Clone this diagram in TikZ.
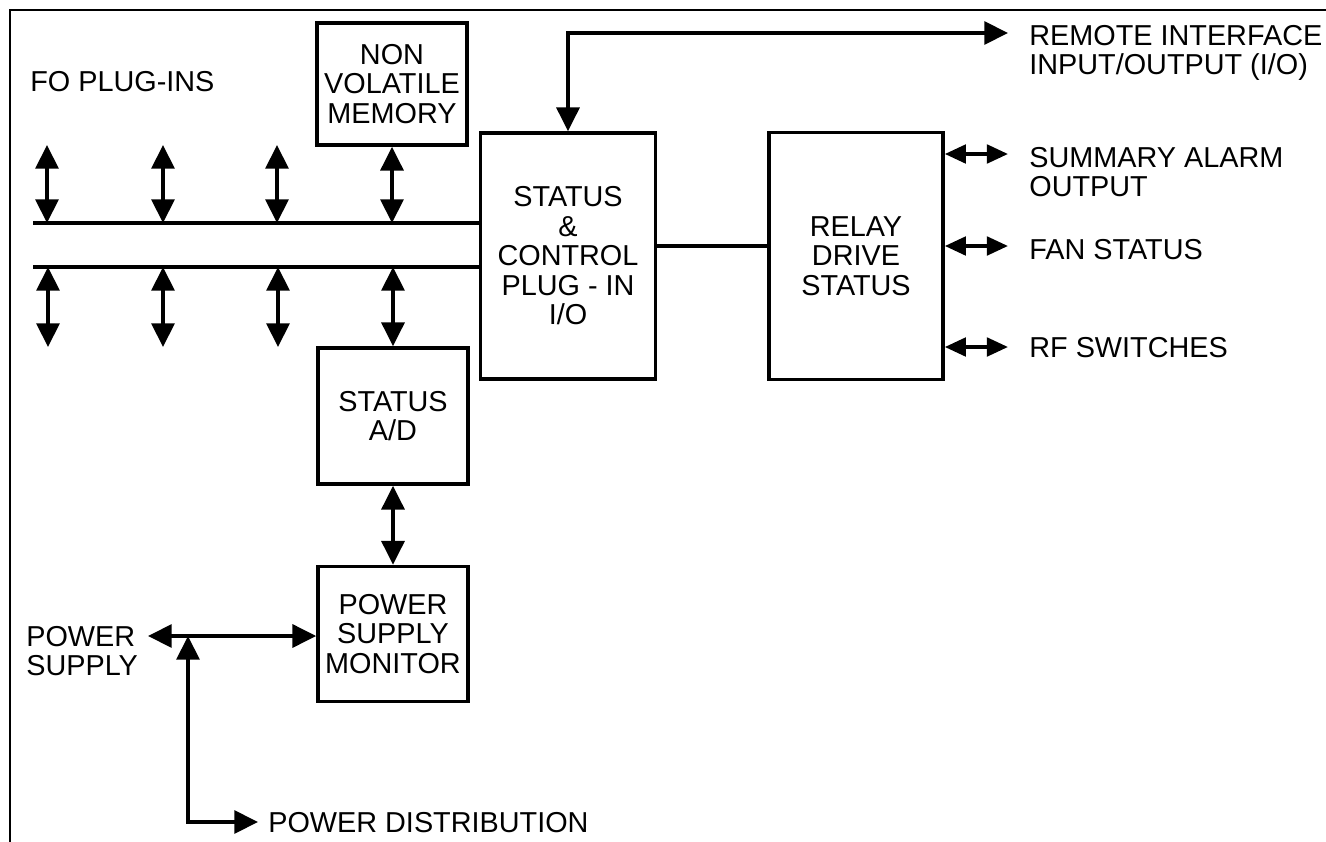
\documentclass[tikz,border=0pt]{standalone}
\usepackage{fontspec}
\setmainfont{Liberation Sans}
\usetikzlibrary{arrows.meta,positioning}
\tikzset{
  blk/.style={draw,line width=2.1pt,align=center,inner sep=0pt},
  lbl/.style={anchor=west,align=left,inner sep=0pt},
  wire/.style={line width=2.1pt},
  dbl/.style={wire,{Triangle[length=13.5pt,width=13pt]}-{Triangle[length=13.5pt,width=13pt]}},
  dbls/.style={wire,{Triangle[length=12pt,width=10.5pt]}-{Triangle[length=12pt,width=10.5pt]}},
}
\begin{document}
\begin{tikzpicture}[x=0.02cm,y=-0.02cm,font=\fontsize{16.4}{16.8}\selectfont]
\useasboundingbox (0,0) rectangle (1326,842);
\draw[line width=1.4pt] (1326,10) -- (10,10) -- (10,842);
\node[blk,minimum width=3cm,minimum height=2.44cm] (nvm) at (392,84) {NON\\VOLATILE\\MEMORY};
\node[blk,minimum width=3.5cm,minimum height=4.92cm] (ctl) at (568,256) {STATUS\\\&\\CONTROL\\PLUG - IN\\I/O};
\node[blk,minimum width=3.48cm,minimum height=4.94cm] (relay) at (856,256) {RELAY\\DRIVE\\STATUS};
\node[blk,minimum width=3cm,minimum height=2.72cm] (ad) at (393,416) {STATUS\\A/D};
\node[blk,minimum width=3cm,minimum height=2.7cm] (psm) at (393,634) {POWER\\SUPPLY\\MONITOR};
\node[lbl] (fo) at (30,82) {FO PLUG-INS};
\node[lbl] (remote) at (1029,53) {REMOTE INTERFACE\\INPUT/OUTPUT (I/O)};
\node[lbl] (alarm) at (1029,172) {SUMMARY ALARM\\OUTPUT};
\node[lbl] (fan) at (1029,250) {FAN STATUS};
\node[lbl] (rf) at (1029,348) {RF SWITCHES};
\node[lbl] (supply) at (26,651) {POWER\\SUPPLY};
\node[lbl] (dist) at (268,823) {POWER DISTRIBUTION};
\coordinate (busA) at (33,223);
\coordinate (busB) at (33,267);
\draw[wire] (busA) -- (busA -| ctl.west);
\draw[wire] (busB) -- (busB -| ctl.west);
\coordinate (p1) at (47,145);
\coordinate (p2) at (163,145);
\coordinate (p3) at (277,145);
\draw[dbl] (p1) -- (p1 |- busA);
\draw[dbl] (p2) -- (p2 |- busA);
\draw[dbl] (p3) -- (p3 |- busA);
\draw[dbl] (nvm.south) -- (nvm.south |- busA);
\coordinate (q1) at (48,347);
\coordinate (q2) at (163,347);
\coordinate (q3) at (278,347);
\draw[dbl] (q1 |- busB) -- (q1);
\draw[dbl] (q2 |- busB) -- (q2);
\draw[dbl] (q3 |- busB) -- (q3);
\draw[dbl] (ad.north |- busB) -- (ad.north);
\coordinate (remtip) at (1008,33);
\draw[dbl] (ctl.north) |- (remtip);
\coordinate (alarmtip) at (1008,154);
\coordinate (fantip) at (1008,246);
\coordinate (rftip) at (1008,347);
\draw[dbls] (relay.east |- alarmtip) -- (alarmtip);
\draw[dbls] (relay.east |- fantip) -- (fantip);
\draw[dbls] (relay.east |- rftip) -- (rftip);
\draw[wire] (ctl.east |- fantip) -- (relay.west |- fantip);
\draw[dbl] (ad.south) -- (psm.north);
\coordinate (pstip) at (148,636);
\coordinate (junc) at (188,636);
\coordinate (pdtip) at (258,822);
\draw[dbl] (pstip) -- (pstip -| psm.west);
\draw[dbl] (junc) |- (pdtip);
\end{tikzpicture}
\end{document}
